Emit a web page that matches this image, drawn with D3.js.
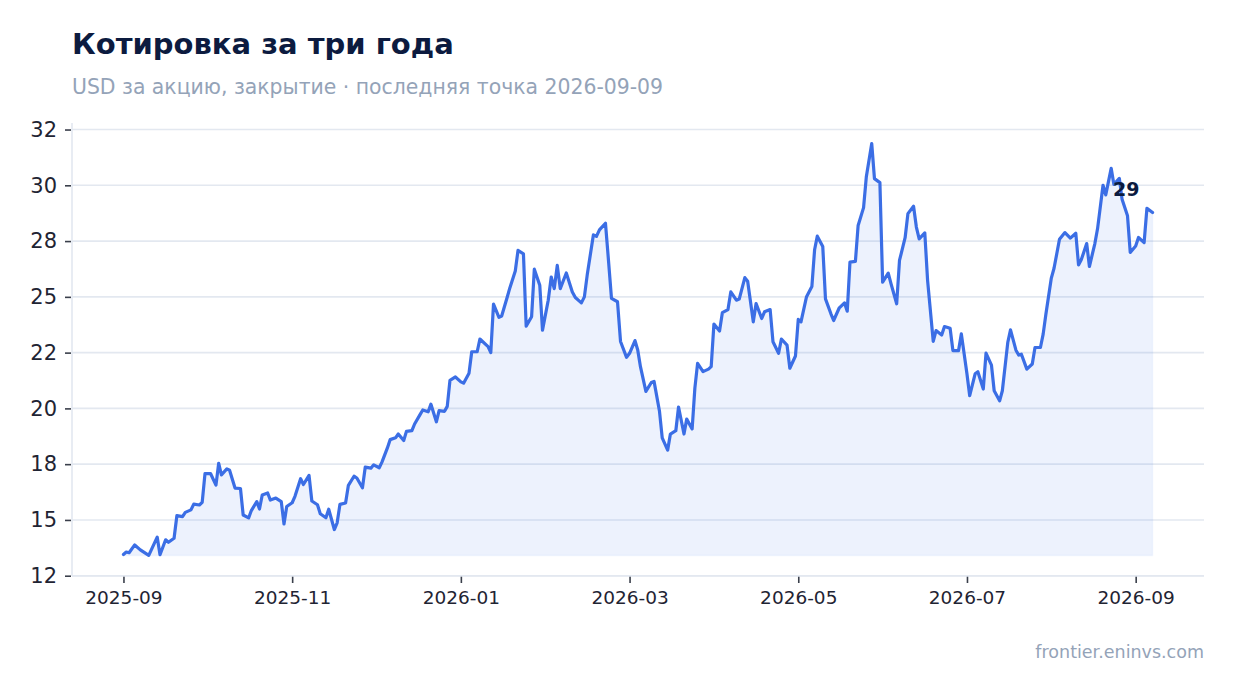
<!DOCTYPE html>
<html><head><meta charset="utf-8">
<script src="https://cdn.jsdelivr.net/npm/d3@7"></script>
<style>
body{margin:0;background:#fff}
svg{display:block}
text{font-family:"DejaVu Sans",sans-serif}
</style>
</head><body>
<svg id="chart" width="1234" height="693"></svg>
<script>
// ---- data ----
const title = "Котировка за три года";
const subtitle = "USD за акцию, закрытие · последняя точка 2026-09-09";
const sourceLabel = "frontier.eninvs.com";
const startDate = "2025-09-01";
// day offsets from startDate
const days = [0,1,2,4,6,9,12,13,15,16,18,19,21,22,24,25,27,28,29,
31,33,34,35,37,38,40,42,43,45,46,48,49,50,52,53,55,57,58,59,
61,62,64,65,67,68,70,71,73,74,76,77,78,80,81,83,84,86,87,89,90,
92,93,95,96,98,99,101,102,104,105,107,108,110,111,113,114,116,117,118,120,
122,123,125,126,128,129,132,133,134,136,137,139,140,142,143,145,146,148,149,151,152,
154,155,156,157,158,160,162,163,165,166,167,169,170,171,173,174,175,177,178,180,181,
183,184,185,187,189,190,192,193,195,196,198,199,201,202,204,205,206,208,210,211,
212,214,215,217,218,220,221,223,224,226,227,229,230,232,233,235,236,238,239,241,242,
243,245,247,248,249,251,252,254,255,257,259,260,261,263,264,266,267,269,270,272,
273,275,276,278,279,281,282,284,285,286,288,289,291,292,294,295,297,298,300,301,
303,304,306,307,309,310,312,313,315,316,318,319,321,322,323,325,327,328,330,331,332,
334,335,337,339,341,343,344,345,347,348,350,351,353,354,356,357,359,360,362,363,
365,366,368,369,371];
const prices = [13.45,13.56,13.53,13.88,13.66,13.41,14.23,13.44,14.11,14.0,14.18,15.19,15.15,15.34,15.45,15.71,15.67,15.79,17.08,17.08,16.56,17.54,17.02,17.29,17.23,16.43,16.41,15.22,15.09,15.42,15.82,15.49,16.12,16.21,15.89,15.98,15.82,14.82,15.6,15.77,16.06,16.85,16.59,17.0,15.85,15.68,15.28,15.1,15.48,14.57,14.87,15.7,15.76,16.55,16.96,16.88,16.44,17.37,17.32,17.47,17.34,17.59,18.23,18.6,18.68,18.85,18.56,18.97,19.0,19.3,19.72,19.93,19.85,20.19,19.4,19.9,19.87,20.09,21.26,21.41,21.19,21.13,21.58,22.54,22.54,23.11,22.77,22.5,24.67,24.08,24.14,24.97,25.4,26.16,27.08,26.93,23.69,24.11,26.24,25.52,23.51,24.85,25.89,25.37,26.41,25.37,26.07,25.22,24.97,24.73,25.0,26.04,27.78,27.71,28.0,28.3,26.64,24.93,24.78,23.0,22.29,22.47,23.04,22.62,21.87,20.76,21.16,21.21,19.87,18.68,18.13,18.85,19.0,20.06,18.85,19.52,19.08,20.91,22.02,21.65,21.76,21.87,23.78,23.47,24.29,24.43,25.22,24.85,24.9,25.86,25.7,23.88,24.7,24.03,24.33,24.43,22.99,22.47,23.11,22.84,21.8,22.35,23.99,23.88,24.99,25.46,27.11,27.72,27.26,24.91,24.24,23.94,24.49,24.73,24.36,26.56,26.59,28.2,29.0,30.37,31.87,30.3,30.12,25.66,26.06,25.58,24.69,26.63,27.65,28.73,29.06,28.13,27.6,27.87,25.73,23.0,23.49,23.29,23.67,23.59,22.59,22.59,23.34,21.54,20.57,21.55,21.64,20.87,22.48,21.94,20.79,20.34,20.79,22.96,23.52,22.61,22.39,22.43,21.76,21.99,22.73,22.73,23.33,24.22,25.84,26.28,27.58,27.88,27.63,27.85,26.43,26.66,27.39,26.36,27.39,28.06,30.0,29.57,30.76,30.04,30.31,29.37,28.63,26.99,27.28,27.66,27.43,28.97,28.78];
const yTickValues = [12.5,15,17.5,20,22.5,25,27.5,30,32.5];
const yTickLabels = ["12","15","18","20","22","25","28","30","32"];
const xTickMonths = ["2025-09","2025-11","2026-01","2026-03","2026-05","2026-07","2026-09"];

// ---- build ----
(function () {
const parseDay = d3.timeParse("%Y-%m-%d");
const parseMonth = d3.timeParse("%Y-%m");
const base = parseDay(startDate);
const data = days.map((d, i) => ({date: d3.timeDay.offset(base, d), value: prices[i]}));

// month-based position: whole months plus fraction of the month
const monthPos = dt => {
  const dim = new Date(dt.getFullYear(), dt.getMonth() + 1, 0).getDate();
  return dt.getFullYear() * 12 + dt.getMonth() + (dt.getDate() - 1) / dim;
};

const svg = d3.select("#chart");
const W = 1234, H = 693;
const mLeft = 72, mRight = 1204, mTop = 123, mBottom = 576;

const mExt = d3.extent(data, d => monthPos(d.date));
const mSpan = mExt[1] - mExt[0];
const x = d3.scaleLinear()
  .domain([mExt[0] - mSpan * 0.05, mExt[1] + mSpan * 0.05])
  .range([mLeft, mRight]);
const vExt = d3.extent(data, d => d.value);
const vSpan = vExt[1] - vExt[0];
const y = d3.scaleLinear()
  .domain([vExt[0] - vSpan * 0.05, vExt[1] + vSpan * 0.05])
  .range([mBottom, mTop]);

svg.append("rect").attr("width", W).attr("height", H).attr("fill", "#fff");

// gridlines
svg.append("g").selectAll("line").data(yTickValues).join("line")
  .attr("x1", mLeft).attr("x2", mRight)
  .attr("y1", d => y(d)).attr("y2", d => y(d))
  .attr("stroke", "#e3e8f0").attr("stroke-width", 1.6);

// y axis
const yAxis = d3.axisLeft(y).tickValues(yTickValues)
  .tickFormat((d, i) => yTickLabels[i]).tickSize(6).tickPadding(8);
const gy = svg.append("g").attr("transform", `translate(${mLeft - 1},0)`).call(yAxis);
gy.select(".domain").remove();
gy.selectAll(".tick line").attr("stroke", "#3a3f4b").attr("stroke-width", 1.6);
gy.selectAll(".tick text").attr("fill", "#1f2433").style("font-size", "21px")
  .style("font-family", "'DejaVu Sans', sans-serif");
svg.append("line").attr("x1", mLeft).attr("x2", mLeft).attr("y1", mTop).attr("y2", mBottom)
  .attr("stroke", "#e3e8f0").attr("stroke-width", 1.6);

// x axis
const xTickPos = xTickMonths.map(m => monthPos(parseMonth(m)));
const xAxis = d3.axisBottom(x).tickValues(xTickPos)
  .tickFormat((d, i) => xTickMonths[i]).tickSize(7).tickPadding(8);
const gx = svg.append("g").attr("transform", `translate(0,${mBottom})`).call(xAxis);
gx.select(".domain").remove();
gx.selectAll(".tick line").attr("stroke", "#3a3f4b").attr("stroke-width", 1.6);
gx.selectAll(".tick text").attr("fill", "#1f2433").style("font-size", "18.5px")
  .style("font-family", "'DejaVu Sans', sans-serif");
svg.append("line").attr("x1", mLeft).attr("x2", mRight).attr("y1", mBottom).attr("y2", mBottom)
  .attr("stroke", "#e3e8f0").attr("stroke-width", 1.6);

// area + line
const area = d3.area().x(d => x(monthPos(d.date))).y0(y(vExt[0])).y1(d => y(d.value));
svg.append("path").datum(data).attr("d", area)
  .attr("fill", "#3b6ee5").attr("fill-opacity", 0.09)
  .attr("stroke", "#3b6ee5").attr("stroke-opacity", 0.05).attr("stroke-width", 1.5);
const line = d3.line().x(d => x(monthPos(d.date))).y(d => y(d.value));
svg.append("path").datum(data).attr("d", line)
  .attr("fill", "none").attr("stroke", "#3b6ee5").attr("stroke-width", 3.2)
  .attr("stroke-linejoin", "round").attr("stroke-linecap", "round");

// last value label
const last = data[data.length - 1];
svg.append("text").attr("x", x(monthPos(last.date)) - 13).attr("y", y(last.value) - 17)
  .attr("text-anchor", "end").attr("fill", "#0c1b3f")
  .style("font-size", "19px").style("font-weight", "bold")
  .text(d3.format(".0f")(last.value));

// titles
svg.append("text").attr("x", 72).attr("y", 54).attr("fill", "#0c1b3f")
  .style("font-size", "29px").style("font-weight", "bold").text(title);
svg.append("text").attr("x", 72).attr("y", 94).attr("fill", "#94a3b8")
  .style("font-size", "20.4px").text(subtitle);
svg.append("text").attr("x", 1204).attr("y", 658).attr("text-anchor", "end")
  .attr("fill", "#94a3b8").style("font-size", "17.5px").text(sourceLabel);
})();
</script>
</body></html>
